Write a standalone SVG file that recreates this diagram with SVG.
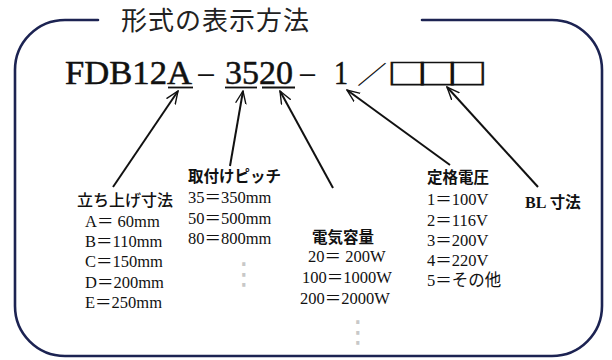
<svg xmlns="http://www.w3.org/2000/svg" width="612" height="360" viewBox="0 0 612 360">
<style>
.frame{fill:none;stroke:#1c2352;stroke-width:2.6;stroke-linecap:round}
.ttl{font-family:"Noto Sans CJK JP",sans-serif;font-size:26px;fill:#222;letter-spacing:1px}
.code{font-family:"Liberation Serif","Noto Sans CJK JP",serif;font-size:33px;fill:#111;stroke:#111;stroke-width:0.5}
.sym{font-family:"Noto Sans CJK JP",sans-serif;fill:#111}
.cj{font-family:"Noto Sans CJK JP",sans-serif;fill:#111}
.hd{font-family:"Noto Sans CJK JP",sans-serif;font-size:15.5px;font-weight:bold;fill:#111}
.val{font-family:"Liberation Serif","Noto Sans CJK JP",serif;font-size:16.5px;fill:#111}
.dots{font-family:"DejaVu Sans",sans-serif;font-size:30px;fill:#c8c8c8}
.arr{fill:none;stroke:#111;stroke-width:2;marker-end:url(#ah)}
.ul{stroke:#111;stroke-width:1.8}
</style>
<defs>
<marker id="ah" viewBox="0 0 12 10" refX="11" refY="5" markerWidth="7" markerHeight="6" markerUnits="strokeWidth" orient="auto">
<path d="M0,0.5 L11,5 L0,9.5" fill="none" stroke="#111" stroke-width="1.2"/>
</marker>
</defs>
<rect width="612" height="360" fill="#fff"/>
<g id="frame">
<path class="frame" d="M98,20 H65 A50,50 0 0 0 15,70 V306 A50,50 0 0 0 65,356 H552 A50,50 0 0 0 602,306 V70 A50,50 0 0 0 552,20 H422"/>
</g>
<g id="title">
<text class="ttl" x="121" y="30">形式の表示方法</text>
</g>
<g id="code">
<text class="code" x="65" y="84" textLength="127" lengthAdjust="spacingAndGlyphs">FDB12A</text>
<text class="sym" x="195" y="84" font-size="24" textLength="22" lengthAdjust="spacingAndGlyphs">－</text>
<text class="code" x="225" y="84" textLength="68" lengthAdjust="spacingAndGlyphs">3520</text>
<text class="sym" x="297" y="84" font-size="24" textLength="21" lengthAdjust="spacingAndGlyphs">－</text>
<text class="code" x="334" y="84" textLength="14" lengthAdjust="spacingAndGlyphs">1</text>
<text class="sym" x="357" y="84" font-size="25" textLength="30" lengthAdjust="spacingAndGlyphs">／</text>
<text class="sym" font-size="29" letter-spacing="-7.6" stroke="#111" stroke-width="0.6" transform="translate(387,85) scale(1.4,1)">□□□</text>
<line class="ul" x1="168" y1="87.5" x2="193" y2="87.5"/>
<line class="ul" x1="225" y1="87.5" x2="257" y2="87.5"/>
<line class="ul" x1="262" y1="87.5" x2="295" y2="87.5"/>
</g>
<g id="connectors">
<line class="arr" x1="113" y1="187" x2="178" y2="91"/>
<line class="arr" x1="230" y1="166" x2="243" y2="91"/>
<line class="arr" x1="333" y1="188" x2="280" y2="91"/>
<line class="arr" x1="450" y1="165" x2="347" y2="90"/>
<line class="arr" x1="538" y1="187" x2="447" y2="87"/>
</g>
<g id="node-rise">
<text class="cj" x="77" y="206" font-size="16" font-weight="500">立ち上げ寸法</text>
<text class="val" x="85" y="227">A＝ 60mm</text>
<text class="val" x="85" y="247">B＝110mm</text>
<text class="val" x="85" y="267">C＝150mm</text>
<text class="val" x="85" y="288">D＝200mm</text>
<text class="val" x="85" y="308">E＝250mm</text>
</g>
<g id="node-pitch">
<text class="hd" x="188" y="182" font-size="16">取付けピッチ</text>
<text class="val" x="188" y="203">35＝350mm</text>
<text class="val" x="188" y="224">50＝500mm</text>
<text class="val" x="188" y="244">80＝800mm</text>
<text class="dots" x="229" y="284">⋮</text>
</g>
<g id="node-power">
<text class="hd" x="312" y="243">電気容量</text>
<text class="val" x="308" y="262">20＝  200W</text>
<text class="val" x="302" y="283">100＝1000W</text>
<text class="val" x="300" y="304">200＝2000W</text>
<text class="dots" x="343" y="342">⋮</text>
</g>
<g id="node-voltage">
<text class="hd" x="427" y="183">定格電圧</text>
<text class="val" x="427" y="205">1＝100V</text>
<text class="val" x="427" y="226">2＝116V</text>
<text class="val" x="427" y="246">3＝200V</text>
<text class="val" x="427" y="266">4＝220V</text>
<text class="val" x="427" y="286">5＝その他</text>
</g>
<g id="node-bl">
<text class="hd" x="525" y="208"><tspan font-family="Liberation Serif" font-size="16">BL</tspan> 寸法</text>
</g>
</svg>
